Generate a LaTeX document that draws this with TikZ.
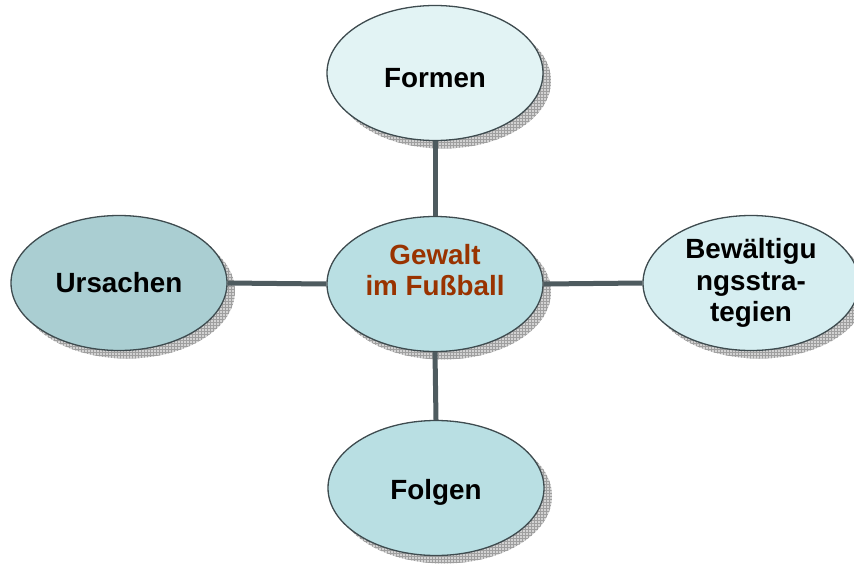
\documentclass[tikz,border=0pt]{standalone}
\usepackage{fontspec}
\setmainfont{Liberation Sans}
\usetikzlibrary{shapes.geometric,patterns}
\definecolor{linec}{HTML}{4E5B5F}
\definecolor{borderc}{HTML}{3E4B4F}
\definecolor{cFormen}{HTML}{E2F3F4}
\definecolor{cCenter}{HTML}{B9DFE3}
\definecolor{cUrs}{HTML}{AACED2}
\definecolor{cBew}{HTML}{D6EEF1}
\definecolor{cFolg}{HTML}{B9DFE3}
\definecolor{brownt}{HTML}{993300}
\tikzset{
  bubble/.style={ellipse, draw=borderc, line width=1.3pt, minimum width=216pt, minimum height=135pt, inner sep=0pt, align=center,
    font=\fontsize{27.8}{31.5}\selectfont\bfseries},
  shadowfill/.style={fill=gray!35},
  shadowpat/.style={pattern=grid, pattern color=gray!75},
  conn/.style={draw=linec, line width=5pt}
}
\begin{document}
\begin{tikzpicture}[x=1pt,y=-1pt]
\useasboundingbox (0,0) rectangle (854,565);
\clip (0,0) rectangle (854,565);
% shadows
\foreach \cx/\cy in {435/73, 435/284, 119/283, 751/283, 436/488}{
  \fill[shadowfill] (\cx+8,\cy+8) ellipse [x radius=108, y radius=67.5];
  \fill[shadowpat] (\cx+8,\cy+8) ellipse [x radius=108, y radius=67.5];
}
% nodes
\node[bubble, fill=cFormen, text height=30pt] (formen) at (435,73) {Formen};
\node[bubble, fill=cCenter] (center) at (435,284) {};
\node[bubble, fill=cUrs] (urs) at (119,283) {Ursachen};
\node[bubble, fill=cBew] (bew) at (751,283) {Bewältigu\\ngsstra-\\tegien};
\node[bubble, fill=cFolg, text height=28pt] (folg) at (436,488) {Folgen};
\node[font=\fontsize{27.8}{31.5}\selectfont\bfseries, text=brownt, align=center, inner sep=0pt] (ctext) at ([yshift=14pt]center.center) {Gewalt\\im Fußball};
% connectors
\draw[conn] (formen.south) -- (center.north);
\draw[conn] (center.south) -- (folg.north);
\draw[conn] (urs.east) -- (center.west);
\draw[conn] (center.east) -- (bew.west);
\end{tikzpicture}
\end{document}
